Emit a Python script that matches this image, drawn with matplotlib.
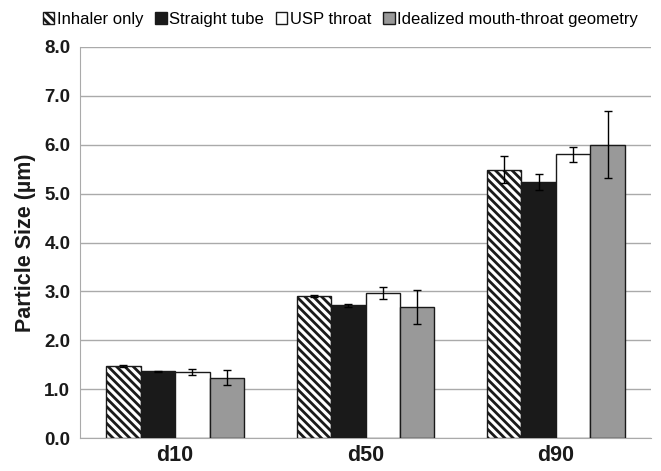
import numpy as np
import matplotlib.pyplot as plt

plt.rcParams['font.family'] = ['Liberation Sans', 'DejaVu Sans']
plt.rcParams['hatch.linewidth'] = 2.0

# data
categories = ['d10', 'd50', 'd90']
series = ['Inhaler only', 'Straight tube', 'USP throat', 'Idealized mouth-throat geometry']
values = [
    [1.48, 2.90, 5.49],   # inhaler only
    [1.37, 2.72, 5.24],   # straight tube
    [1.35, 2.97, 5.80],   # USP throat
    [1.24, 2.69, 6.00],   # idealized
]
errors = [
    [0.02, 0.02, 0.27],
    [0.01, 0.03, 0.17],
    [0.06, 0.12, 0.16],
    [0.15, 0.35, 0.68],
]
yticks = [0.0, 1.0, 2.0, 3.0, 4.0, 5.0, 6.0, 7.0, 8.0]

faces = ['white', '#1a1a1a', 'white', '#999999']
hatches = ['\\\\\\\\', None, None, None]

fig = plt.figure(figsize=(6.61, 4.71), dpi=100)
ax = fig.add_axes([0.121, 0.0694, 0.864, 0.8314])

x = np.arange(len(categories))
w = 0.181
for i in range(4):
    pos = x + (i - 1.5) * w
    ax.bar(pos, values[i], w, color=faces[i], edgecolor='#1a1a1a', linewidth=1.0,
           hatch=hatches[i], label=series[i], zorder=3)
    ax.errorbar(pos, values[i], yerr=errors[i], fmt='none', ecolor='black',
                elinewidth=1.0, capsize=3, capthick=1.0, zorder=4)

ax.set_xlim(-0.5, 2.5)
ax.set_ylim(0, 8)
ax.set_yticks(yticks)
ax.set_yticklabels(['%.1f' % t for t in yticks], fontsize=13.5, fontweight='bold',
                   color='#1a1a1a')
ax.set_xticks(x)
ax.set_xticklabels(categories, fontsize=15.5, fontweight='bold', color='#1a1a1a')
ax.tick_params(axis='y', length=0, pad=7)
ax.tick_params(axis='x', length=0, pad=5)
ax.grid(axis='y', color='#aaaaaa', linewidth=1.0, zorder=0)
for s in ['top', 'right']:
    ax.spines[s].set_visible(False)
ax.spines['left'].set_color('#aaaaaa')
ax.spines['bottom'].set_color('#aaaaaa')
ax.set_ylabel('Particle Size (µm)', fontsize=15.5, fontweight='bold', labelpad=6,
              color='#1a1a1a')

fig.legend(loc='upper center', bbox_to_anchor=(0.515, 0.993), ncol=4, frameon=False,
           fontsize=12, handlelength=0.7, handleheight=0.8, handletextpad=0.15,
           columnspacing=0.7, borderaxespad=0.1)

fig.savefig('out.png', dpi=100)
